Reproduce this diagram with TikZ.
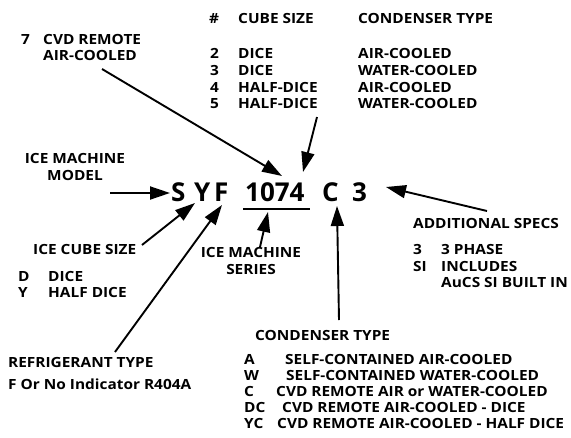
\documentclass[tikz,border=0pt]{standalone}
\usepackage{fontspec}
\setmainfont{Open Sans}[FakeStretch=1.1]
\newfontfamily\codefont{Open Sans}
\usetikzlibrary{positioning, arrows.meta}

\begin{document}
\begin{tikzpicture}[
    x=1pt, y=-1pt,
    txt/.style={anchor=base west, inner sep=0pt, font=\bfseries\fontsize{14}{17}\selectfont},
    ctxt/.style={anchor=base, inner sep=0pt, align=center, font=\bfseries\fontsize{14}{17}\selectfont},
    codeNode/.style={anchor=base west, inner sep=0pt, font=\codefont\bfseries\fontsize{26}{30}\selectfont},
    arr/.style={line width=1.9pt, -{Triangle[length=20pt, width=13pt]}}
]
    \useasboundingbox (0,0) rectangle (571,437);

    % Model code
    \node[codeNode] (S) at (171,201) {S};
    \node[codeNode] (Y) at (194,201) {Y};
    \node[codeNode] (F) at (214,201) {F};
    \node[codeNode] (num) at (245,201) {1074};
    \node[codeNode] (C) at (322,201) {C};
    \node[codeNode] (three) at (352,201) {3};
    \coordinate (ulA) at (243,209);
    \coordinate (ulB) at (310,209);
    \draw[line width=1.8pt] (ulA) -- (ulB);

    % Condenser table (top)
    \node[txt] (hNum) at (209,23) {\#};
    \node[txt] (hCube) at (238,23) {CUBE SIZE};
    \node[txt] (hCond) at (358,23) {CONDENSER TYPE};
    \node[txt] (n2) at (210,58) {2};
    \node[txt] (c2) at (238,58) {DICE};
    \node[txt] (t2) at (358,58) {AIR-COOLED};
    \node[txt] (n3) at (210,75) {3};
    \node[txt] (c3) at (238,75) {DICE};
    \node[txt] (t3) at (358,75) {WATER-COOLED};
    \node[txt] (n4) at (210,92) {4};
    \node[txt] (c4) at (238,92) {HALF-DICE};
    \node[txt] (t4) at (358,92) {AIR-COOLED};
    \node[txt] (n5) at (210,108) {5};
    \node[txt] (c5) at (238,108) {HALF-DICE};
    \node[txt] (t5) at (358,108) {WATER-COOLED};

    % CVD remote note
    \node[txt] (n7) at (21,44) {7};
    \node[txt] (cvd) at (43,44) {CVD REMOTE};
    \node[txt] (cvdAir) at (43,60) {AIR-COOLED};

    % Left labels
    \node[ctxt] (model) at (75,180) {ICE MACHINE\\MODEL};
    \node[txt] (cube) at (33,254) {ICE CUBE SIZE};
    \node[txt] (dKey) at (18,281) {D};
    \node[txt] (dVal) at (48,281) {DICE};
    \node[txt] (yKey) at (18,297) {Y};
    \node[txt] (yVal) at (48,297) {HALF DICE};
    \node[txt] (refr) at (8,367) {REFRIGERANT TYPE};
    \node[txt] (refrVal) at (8,389) {F Or No Indicator R404A};

    % Series
    \node[ctxt] (series) at (251,274) {ICE MACHINE\\SERIES};

    % Additional specs
    \node[txt] (add) at (413,228) {ADDITIONAL SPECS};
    \node[txt] (aKey1) at (413,254) {3};
    \node[txt] (aVal1) at (441,254) {3 PHASE};
    \node[txt] (aKey2) at (413,271) {SI};
    \node[txt] (aVal2) at (441,271) {INCLUDES};
    \node[txt] (aVal3) at (441,287) {AuCS SI BUILT IN};

    % Condenser type (bottom)
    \node[txt] (cond) at (255,340) {CONDENSER TYPE};
    \node[txt] (kA) at (244,364) {A};
    \node[txt] (vA) at (285,364) {SELF-CONTAINED AIR-COOLED};
    \node[txt] (kW) at (244,380) {W};
    \node[txt] (vW) at (286,380) {SELF-CONTAINED WATER-COOLED};
    \node[txt] (kC) at (244,396) {C};
    \node[txt] (vC) at (276,396) {CVD REMOTE AIR or WATER-COOLED};
    \node[txt] (kDC) at (244,412) {DC};
    \node[txt] (vDC) at (282,412) {CVD REMOTE AIR-COOLED - DICE};
    \node[txt] (kYC) at (244,428) {YC};
    \node[txt] (vYC) at (277,428) {CVD REMOTE AIR-COOLED - HALF DICE};

    % Arrow ends
    \coordinate (cvdStart) at (102,69);
    \coordinate (cvdTip) at (282,176);
    \coordinate (tabStart) at (317,117);
    \coordinate (tabTip) at (303,172);
    \coordinate (modelStart) at (110,193);
    \coordinate (modelTip) at (170,193);
    \coordinate (cubeStart) at (142,245);
    \coordinate (cubeTip) at (195,203);
    \coordinate (refrStart) at (115,352);
    \coordinate (refrTip) at (222,205);
    \coordinate (seriesStart) at (260,247);
    \coordinate (seriesTip) at (268,212);
    \coordinate (condStart) at (339,320);
    \coordinate (condTip) at (337,206);
    \coordinate (addStart) at (487,211);
    \coordinate (addTip) at (386,187);

    % Arrows
    \draw[arr] (cvdStart) -- (cvdTip);
    \draw[arr] (tabStart) -- (tabTip);
    \draw[arr] (modelStart) -- (modelTip);
    \draw[arr] (cubeStart) -- (cubeTip);
    \draw[arr] (refrStart) -- (refrTip);
    \draw[arr] (seriesStart) -- (seriesTip);
    \draw[arr] (condStart) -- (condTip);
    \draw[arr] (addStart) -- (addTip);

\end{tikzpicture}
\end{document}
